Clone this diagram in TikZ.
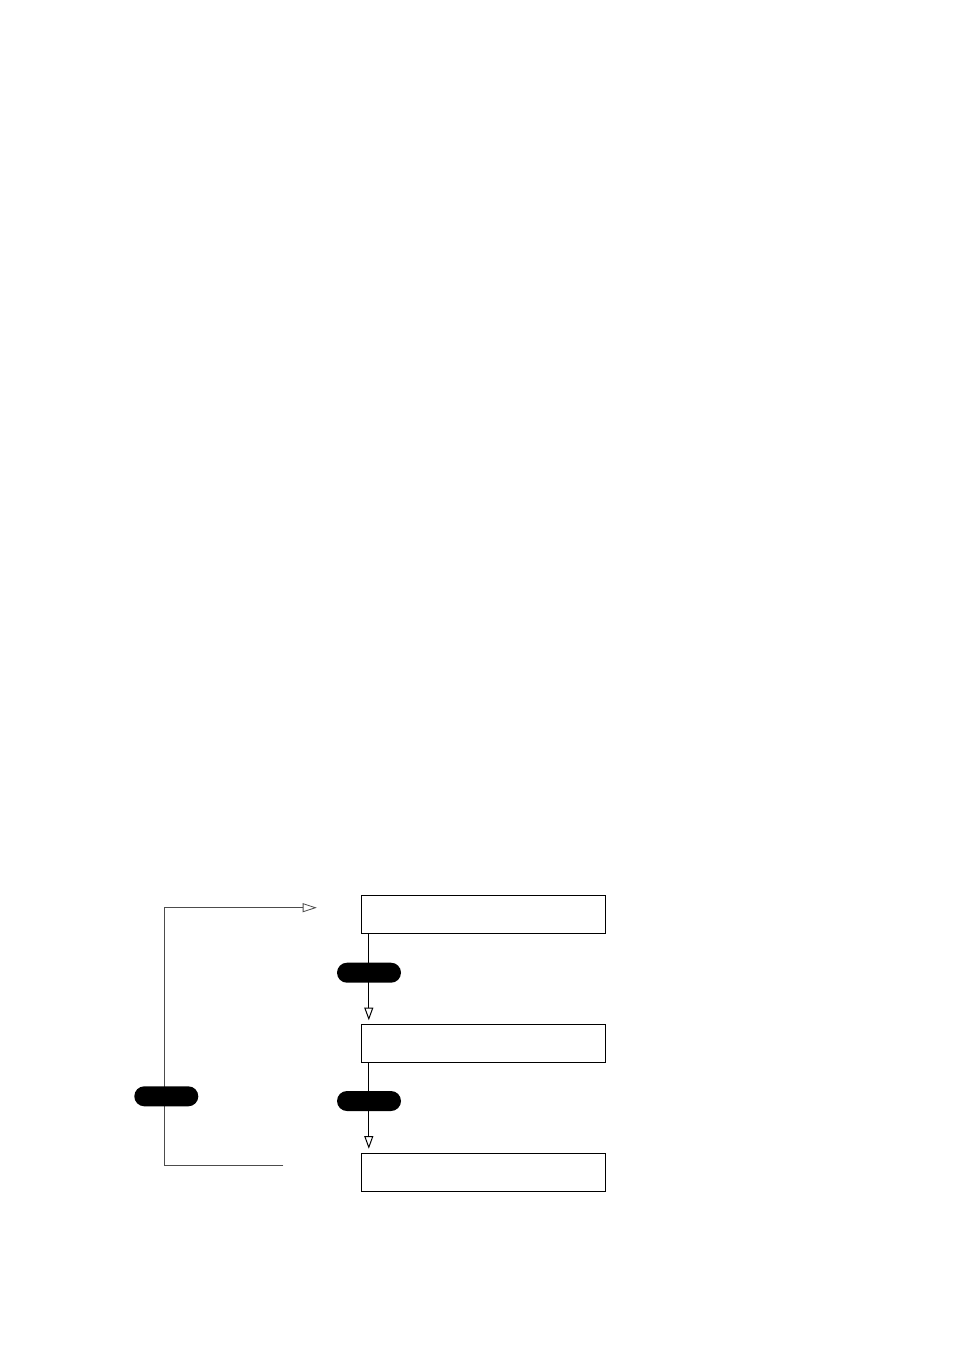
\documentclass[tikz,border=0pt]{standalone}
\usetikzlibrary{arrows.meta,shapes.misc}
\tikzset{
    flow-box/.style = {draw=black, fill=white, line width=0.75pt, rectangle, minimum width=183pt, minimum height=28.5pt, inner sep=0pt},
    flow-pill/.style = {fill=black, rounded rectangle, minimum width=48pt, minimum height=15pt, inner sep=0pt},
    flow-arrow/.style = {draw=black, line width=0.75pt, -{Triangle[open, length=9.5pt, width=6.75pt]}, shorten >=2.8pt},
    loop-line/.style = {draw=black!70, line width=0.6pt},
}
\begin{document}
\begin{tikzpicture}[x=0.75pt, y=-0.75pt]
\useasboundingbox (0,0) rectangle (954,1350);
% states
\node [flow-box] (box1) at (483.3,914.7) {};
\node [flow-box] (box2) at (483.3,1043.5) {};
\node [flow-box] (box3) at (483.3,1172) {};
% transitions
\draw [flow-arrow] ([xshift=6pt]box1.south west) -- ([xshift=6pt]box2.north west);
\draw [flow-arrow] ([xshift=6pt]box2.south west) -- ([xshift=6pt]box3.north west);
\node [flow-pill] (guard1) at (369,972.7) {};
\node [flow-pill] (guard2) at (369,1101) {};
% loop back
\coordinate (loop-start) at (283.3,1165.7);
\coordinate (loop-corner) at (164.3,1165.7);
\coordinate (loop-end) at (316.7,907.7);
\draw [loop-line, -{Triangle[open, length=10.5pt, width=6.75pt]}] (loop-start) -- (loop-corner) |- (loop-end);
\node [flow-pill] (guard3) at (166.3,1096.3) {};
\end{tikzpicture}
\end{document}
